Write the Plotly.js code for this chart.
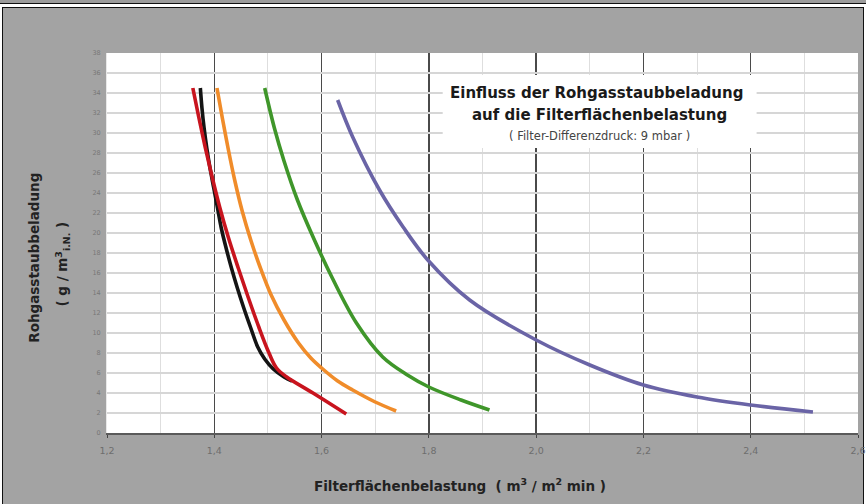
<!DOCTYPE html>
<html>
<head>
<meta charset="utf-8">
<script src="https://cdn.plot.ly/plotly-3.0.1.min.js"></script>
<style>
  html, body { margin:0; padding:0; background:#ffffff; width:866px; height:504px; overflow:hidden; }
  #topbar { position:absolute; left:0; top:0; width:866px; height:3px; background:#9c9c9c; border-bottom:1px solid #111; }
  #panel { position:absolute; left:2px; top:7px; width:860px; height:497px; background:#a3a3a3; border-left:1px solid #111; border-top:1px solid #111; border-right:1px solid #111; }
  #chart { position:absolute; left:0; top:0; width:866px; height:504px; }
</style>
</head>
<body>
<div id="topbar"></div>
<div id="panel"></div>
<div id="chart"></div>
<script>
// Data
const blackX  = [1.374, 1.377, 1.381, 1.386, 1.392, 1.399, 1.406, 1.413, 1.422, 1.432, 1.443, 1.455, 1.468, 1.481, 1.494, 1.510, 1.530, 1.545];
const blackY  = [34.5, 32.5, 30.5, 28.5, 26.5, 24.5, 22.5, 20.5, 18.5, 16.5, 14.5, 12.5, 10.5, 8.6, 7.4, 6.4, 5.6, 5.2];
const redX    = [1.360, 1.371, 1.383, 1.396, 1.410, 1.426, 1.444, 1.463, 1.483, 1.502, 1.516, 1.535, 1.584, 1.646];
const redY    = [34.5, 31.6, 28.6, 25.6, 22.6, 19.6, 16.6, 13.6, 10.6, 8.0, 6.5, 5.6, 4.0, 1.9];
const orangeX = [1.405, 1.415, 1.426, 1.438, 1.452, 1.468, 1.486, 1.506, 1.530, 1.557, 1.580, 1.600, 1.630, 1.658, 1.700, 1.739];
const orangeY = [34.5, 31.5, 28.4, 25.3, 22.2, 19.3, 16.5, 13.8, 11.3, 9.0, 7.5, 6.5, 5.2, 4.3, 3.1, 2.2];
const greenX  = [1.494, 1.512, 1.530, 1.555, 1.585, 1.620, 1.665, 1.714, 1.760, 1.800, 1.860, 1.913];
const greenY  = [34.5, 30.5, 27.2, 23.3, 19.5, 15.5, 11.0, 7.6, 5.8, 4.6, 3.3, 2.3];
const purpleX = [1.630, 1.658, 1.708, 1.752, 1.798, 1.876, 2.000, 2.100, 2.200, 2.300, 2.400, 2.516];
const purpleY = [33.3, 29.6, 24.3, 20.6, 17.3, 13.3, 9.3, 6.8, 4.8, 3.6, 2.8, 2.1];

const xTickVals = [1.2, 1.4, 1.6, 1.8, 2.0, 2.2, 2.4, 2.6];
const yTickVals = [0,2,4,6,8,10,12,14,16,18,20,22,24,26,28,30,32,34,36,38];

const titleLine1 = "Einfluss der Rohgasstaubbeladung";
const titleLine2 = "auf die Filterflächenbelastung";
const titleLine3 = "( Filter-Differenzdruck: 9 mbar )";
const xTitle = "Filterflächenbelastung  ( m<sup>3</sup> / m<sup>2</sup> min )";
const yTitle1 = "Rohgasstaubbeladung";
const yTitle2 = "( g / m<sup>3</sup><sub>i.N.</sub> )";

const series = [
  {x: blackX,  y: blackY,  color: '#141414'},
  {x: redX,    y: redY,    color: '#c8141e'},
  {x: orangeX, y: orangeY, color: '#f08c2a'},
  {x: greenX,  y: greenY,  color: '#3f962a'},
  {x: purpleX, y: purpleY, color: '#6a64a6'}
];

const traces = series.map(s => ({
  x: s.x, y: s.y, type: 'scatter', mode: 'lines',
  line: {color: s.color, width: 3.6, shape: 'spline', smoothing: 1},
  hoverinfo: 'skip', showlegend: false
}));

const FONT = 'DejaVu Sans, Arial, sans-serif';

const layout = {
  width: 866, height: 504,
  margin: {l: 107, r: 8, t: 53, b: 71, pad: 0},
  paper_bgcolor: 'rgba(0,0,0,0)',
  plot_bgcolor: '#ffffff',
  separators: ',.',
  showlegend: false,
  xaxis: {
    range: [1.2, 2.6], tickvals: xTickVals, tickformat: '.1f',
    showgrid: true, gridcolor: '#4a4a4a', gridwidth: 1.3,
    minor: {dtick: 0.1, showgrid: true, gridcolor: '#dedede', gridwidth: 1},
    showline: true, linecolor: '#5a5a5a', linewidth: 2,
    ticks: 'outside', ticklen: 3, tickcolor: '#444', tickwidth: 1,
    zeroline: false, fixedrange: true,
    tickfont: {family: FONT, size: 9.5, color: '#6e6e6e'},
    ticklabelstandoff: 5
  },
  yaxis: {
    range: [0, 38], tickvals: yTickVals,
    showgrid: true, gridcolor: '#d6d6d6', gridwidth: 1.4,
    showline: true, linecolor: '#e8e8e8', linewidth: 1,
    ticks: '', zeroline: false, fixedrange: true,
    tickfont: {family: FONT, size: 6.5, color: '#777777'},
    ticklabelstandoff: 4
  },
  shapes: [
    {type: 'rect', xref: 'paper', yref: 'paper', x0: 0.447, x1: 0.865, y0: 0.75, y1: 0.942,
     fillcolor: '#ffffff', line: {width: 0}, layer: 'above'}
  ],
  annotations: [
    {text: '<b>' + titleLine1 + '</b>', xref: 'paper', yref: 'paper', x: 0.652, y: 0.894,
     showarrow: false, xanchor: 'center', yanchor: 'middle',
     font: {family: FONT, size: 15, color: '#1a1a1a'}},
    {text: '<b>' + titleLine2 + '</b>', xref: 'paper', yref: 'paper', x: 0.656, y: 0.837,
     showarrow: false, xanchor: 'center', yanchor: 'middle',
     font: {family: FONT, size: 15, color: '#1a1a1a'}},
    {text: titleLine3, xref: 'paper', yref: 'paper', x: 0.656, y: 0.782,
     showarrow: false, xanchor: 'center', yanchor: 'middle',
     font: {family: FONT, size: 11.5, color: '#444444'}},
    {text: '<b>' + xTitle + '</b>', xref: 'paper', yref: 'paper', x: 0.470, y: -0.137,
     showarrow: false, xanchor: 'center', yanchor: 'middle',
     font: {family: FONT, size: 13.5, color: '#222222'}},
    {text: '<b>' + yTitle1 + '</b>', xref: 'paper', yref: 'paper', x: -0.0965, y: 0.46,
     showarrow: false, xanchor: 'center', yanchor: 'middle', textangle: -90,
     font: {family: FONT, size: 13.5, color: '#222222'}},
    {text: '<b>' + yTitle2 + '</b>', xref: 'paper', yref: 'paper', x: -0.059, y: 0.445,
     showarrow: false, xanchor: 'center', yanchor: 'middle', textangle: -90,
     font: {family: FONT, size: 13.5, color: '#222222'}}
  ]
};

Plotly.newPlot('chart', traces, layout, {displayModeBar: false, staticPlot: true});
</script>
</body>
</html>
